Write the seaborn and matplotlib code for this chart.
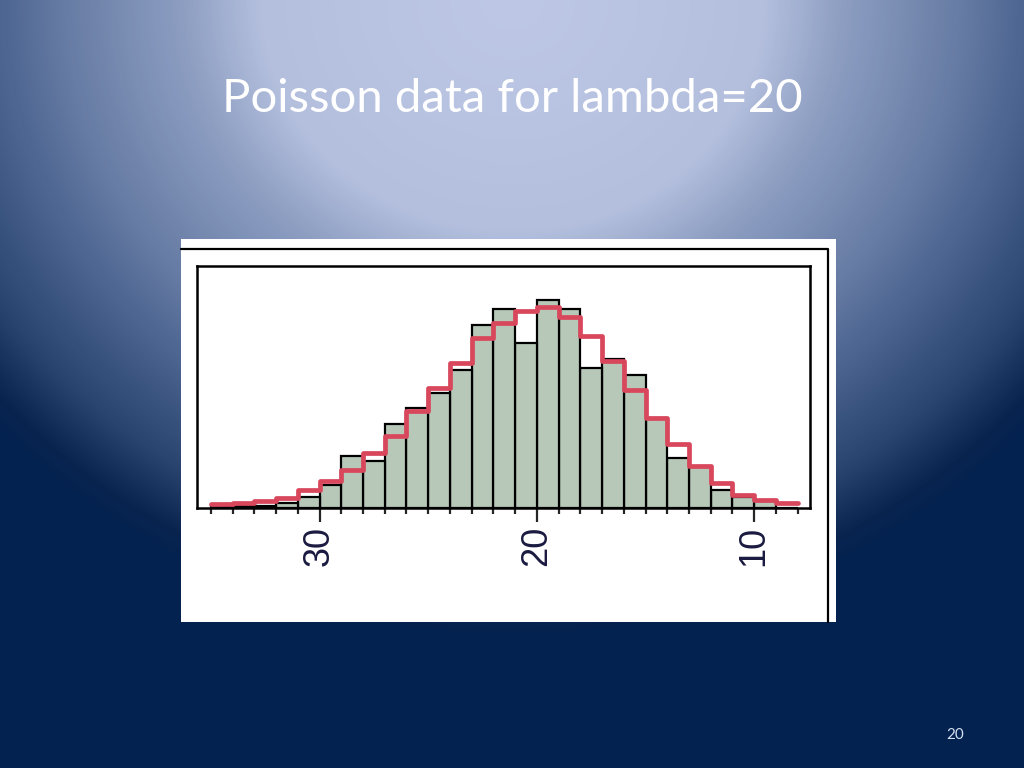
import numpy as np
import pandas as pd
import matplotlib
matplotlib.use("Agg")
import matplotlib.pyplot as plt
from matplotlib.colors import LinearSegmentedColormap
from matplotlib.lines import Line2D
from matplotlib.patches import Rectangle
import seaborn as sns

# bins are [k, k+1], listed from left to right on the reversed axis
bin_left = list(range(34, 7, -1))
observed = [1, 1, 1, 2, 5, 10, 23, 21, 37, 44, 51, 61, 81, 88, 73,
            92, 88, 62, 66, 59, 40, 22, 18, 8, 5, 3, 0]
expected = [1.8, 2.2, 3.1, 4.4, 8, 12, 16.8, 24.3, 31.9, 42.9, 53.1, 64.2, 75.2, 81.9, 87.2,
            88.9, 84.5, 76.1, 65, 52.2, 39.8, 28.3, 18.6, 11.1, 5.8, 3.5, 2.2]
tick_values = [30, 20, 10]
title = "Poisson data for lambda=20"
slide_number = "20"

df = pd.DataFrame({"k": bin_left, "observed": observed, "expected": expected})

sns.set_style("white")

W, H = 1024, 768
fig = plt.figure(figsize=(W / 100, H / 100), dpi=100)

# slide background: radial glow at top centre fading to navy
bg = fig.add_axes([0, 0, 1, 1])
yy, xx = np.mgrid[0:H, 0:W]
d = np.sqrt(((xx - 512) / 700) ** 2 + (yy / 640) ** 2)
cmap = LinearSegmentedColormap.from_list(
    "slide", [(0, "#bec8e6"), (0.36, "#b4bfde"), (0.47, "#8d9ec2"), (0.64, "#677ca4"),
              (0.73, "#4d6692"), (0.87, "#2a4570"), (0.96, "#0a2450"), (1.0, "#03224f")])
bg.imshow(np.clip(d, 0, 1), cmap=cmap, vmin=0, vmax=1, aspect="auto",
          extent=[0, 1, 0, 1], origin="upper")
bg.axis("off")

# white picture panel with its window border
fig.patches.append(Rectangle((181 / W, 1 - 622 / H), (836 - 181) / W, (622 - 239) / H,
                             transform=fig.transFigure, facecolor="white",
                             edgecolor="none", zorder=1))
fig.lines.append(Line2D([181 / W, 828 / W, 828 / W], [1 - 249 / H, 1 - 249 / H, 1 - 622 / H],
                        transform=fig.transFigure, color="black", lw=1.6, zorder=2))

ax = fig.add_axes([197 / W, 1 - 508 / H, (810 - 197) / W, (508 - 266) / H])
ax.set_zorder(3)
edges = list(range(8, 36))
sns.histplot(data=df, x="k", weights="observed", bins=edges, color="#b7c8b8", alpha=1,
             edgecolor="black", linewidth=1.6, ax=ax)
sns.histplot(data=df, x="k", weights="expected", bins=edges, element="step", fill=False,
             color="#d8475c", linewidth=3.4, ax=ax)

ax.set_xlim(35.64, 7.43)
ax.set_ylim(0, 107)
ax.set_xticks(tick_values)
ax.set_xticks(range(8, 36), minor=True)
ax.set_yticks([])
ax.set_xlabel("")
ax.set_ylabel("")
ax.tick_params(axis="x", which="major", length=10, width=1.6, direction="out",
               bottom=True, labelsize=26, pad=3, labelrotation=90, labelcolor="#1a1a40")
ax.tick_params(axis="x", which="minor", length=4.5, width=1.6, direction="out", bottom=True)
for lab in ax.get_xticklabels():
    lab.set_family("Liberation Sans")
for s in ax.spines.values():
    s.set_color("black")
    s.set_linewidth(1.8)

fig.text(0.5, 1 - 99 / H, title, ha="center", va="center", fontsize=34,
         family="Lato", color="white")
fig.text(955 / W, 1 - 735 / H, slide_number, ha="center", va="center", fontsize=11,
         family="Lato", color="#d6e0f2")

fig.savefig("out.png", dpi=100)
